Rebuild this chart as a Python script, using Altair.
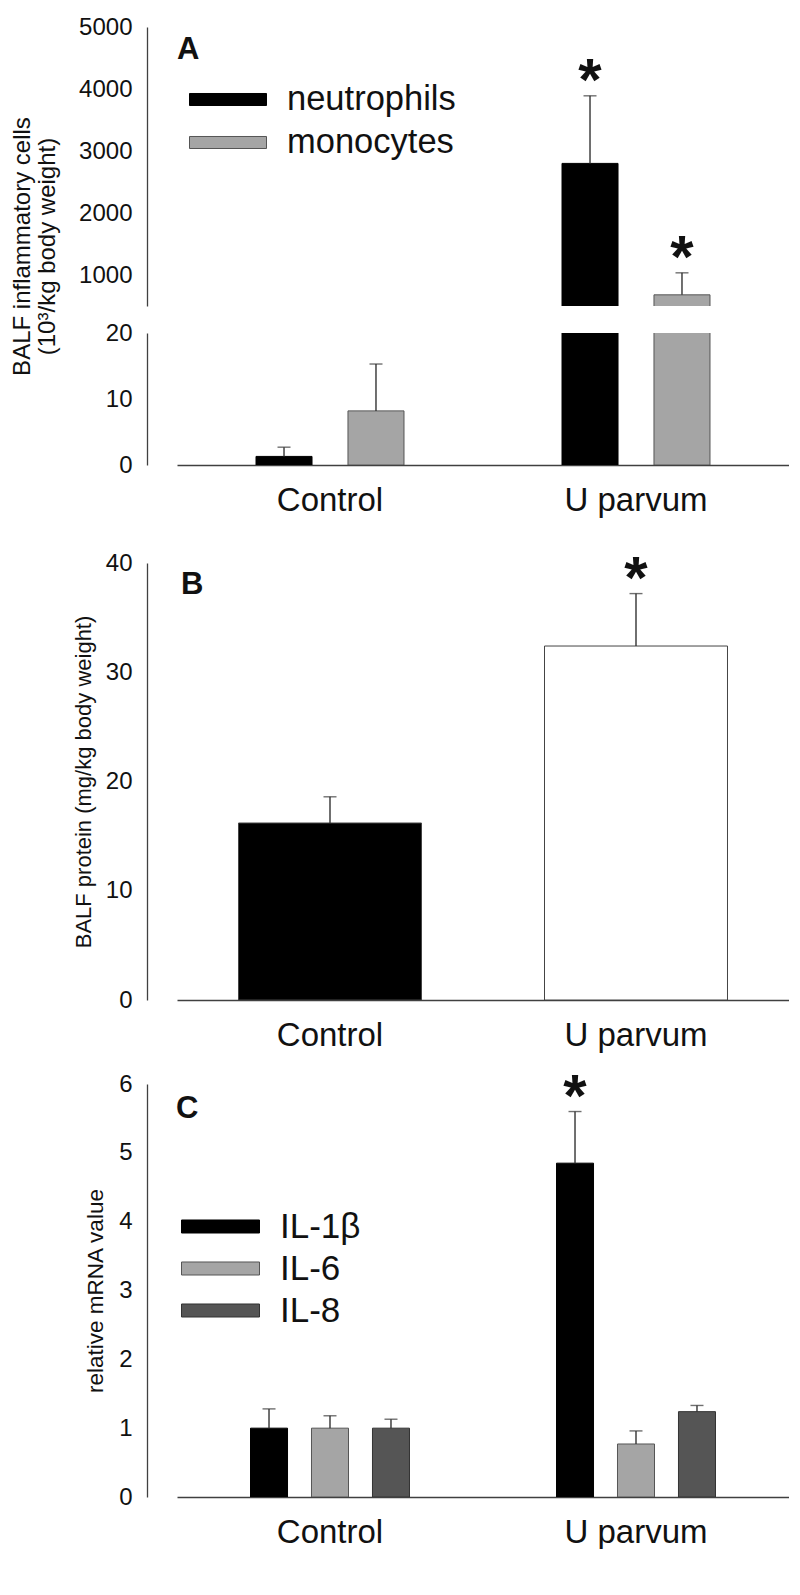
import altair as alt
import pandas as pd

FONT = "Liberation Sans"
INK = "#111111"
AXIS_COLOR = "#404040"

# ---------------- data ----------------
groups = ["Control", "U parvum"]
panel_letters = ["A", "B", "C"]

# Panel A: BALF inflammatory cells (10^3/kg body weight)
cell_types = ["neutrophils", "monocytes"]
neutrophils_mean = [1.3, 2800]
neutrophils_sem = [1.4, 1090]
monocytes_mean = [8.2, 680]
monocytes_sem = [7.1, 355]
cell_sig = [False, True]

# Panel B: BALF protein (mg/kg body weight)
protein_mean = [16.2, 32.4]
protein_sem = [2.4, 4.8]
protein_sig = [False, True]
protein_fill = ["#000000", "#ffffff"]

# Panel C: relative mRNA value
cytokines = ["IL-1β", "IL-6", "IL-8"]
il1b_mean = [1.0, 4.85]
il1b_sem = [0.28, 0.75]
il6_mean = [1.0, 0.77]
il6_sem = [0.18, 0.19]
il8_mean = [1.0, 1.24]
il8_sem = [0.13, 0.09]
il1b_sig = [False, True]
il6_sig = [False, False]
il8_sig = [False, False]


def rows(series, means, sems, sigs):
    out = []
    for g, m, s, sig in zip(groups, means, sems, sigs):
        out.append({"group": g, "series": series, "mean": m, "top": m + s,
                    "base": 0, "star": "*" if sig else ""})
    return out


dfA = pd.DataFrame(rows("neutrophils", neutrophils_mean, neutrophils_sem, cell_sig)
                   + rows("monocytes", monocytes_mean, monocytes_sem, cell_sig))
dfB = pd.DataFrame(rows("protein", protein_mean, protein_sem, protein_sig))
dfB["fill"] = protein_fill
dfC = pd.DataFrame(rows("IL-1β", il1b_mean, il1b_sem, il1b_sig)
                   + rows("IL-6", il6_mean, il6_sem, il6_sig)
                   + rows("IL-8", il8_mean, il8_sem, il8_sig))

W = 612


def y_axis(values, title=None, title_padding=15, title_size=22, **kw):
    args = dict(values=values, ticks=False, grid=False, offset=30, labelPadding=15,
                labelFontSize=24, labelFont=FONT, labelColor=INK, format="d",
                domainColor=AXIS_COLOR, domainWidth=1.3,
                titleFont=FONT, titleFontSize=title_size, titleFontWeight="normal",
                titleColor=INK, titlePadding=title_padding)
    args.update(kw)
    if title is None:
        args["title"] = None
    else:
        args["title"] = title
    return alt.Axis(**args)


x_axis = alt.Axis(labelAngle=0, ticks=False, grid=False, domainColor=AXIS_COLOR,
                  domainWidth=1.3, labelFontSize=33, labelFont=FONT, labelColor=INK,
                  labelPadding=19, title=None)


def letter_layer(letter, dx, dy):
    return alt.Chart(pd.DataFrame({"panel": [letter]})).mark_text(
        align="left", baseline="alphabetic", fontSize=31, fontWeight="bold",
        font=FONT, color=INK
    ).encode(text="panel:N", x=alt.value(dx), y=alt.value(dy))


def bar_layers(df, x, xo, yscale, yaxis, fill, stroke, star=True, letter=None):
    base = alt.Chart(df)
    enc = dict(x=x)
    if xo is not None:
        enc["xOffset"] = xo
    bars = base.mark_bar(clip=True, strokeWidth=1).encode(
        y=alt.Y("mean:Q", scale=yscale, axis=yaxis),
        y2="base:Q", fill=fill, stroke=stroke, **enc)
    err = base.mark_rule(clip=True, color="#333333", strokeWidth=1.4).encode(
        y=alt.Y("mean:Q", scale=yscale), y2="top:Q", **enc)
    cap = base.mark_tick(clip=True, color="#333333", thickness=1.4, size=13).encode(
        y=alt.Y("top:Q", scale=yscale), **enc)
    layers = [bars, err, cap]
    if star:
        stars = base.mark_text(fontSize=60, fontWeight="bold", font=FONT, color=INK,
                               baseline="alphabetic", dy=4).encode(
            y=alt.Y("top:Q", scale=yscale), text="star:N", **enc)
        layers.append(stars)
    if letter is not None:
        layers.append(letter)
    return alt.layer(*layers)


# ---------------- Panel A ----------------
xA = alt.X("group:N", sort=groups,
           scale=alt.Scale(domain=groups, paddingInner=0, paddingOuter=0), axis=None)
xA_axis = alt.X("group:N", sort=groups,
                scale=alt.Scale(domain=groups, paddingInner=0, paddingOuter=0), axis=x_axis)
xoA = alt.XOffset("series:N", sort=cell_types,
                  scale=alt.Scale(domain=cell_types, paddingInner=0.391, paddingOuter=0.859))

legendA = alt.Legend(orient="none", legendX=12, legendY=56, direction="vertical",
                     title=None, clipHeight=33, rowPadding=8, labelOffset=20,
                     labelFontSize=34.5, labelFont=FONT, labelColor=INK, labelLimit=0,
                     symbolType="M-1,-0.156L1,-0.156L1,0.156L-1,0.156Z",
                     symbolSize=5929, symbolStrokeColor="#555555",
                     symbolStrokeWidth=1, symbolOpacity=1, padding=0)

fillA = alt.Fill("series:N", sort=cell_types,
                 scale=alt.Scale(domain=cell_types, range=["#000000", "#a5a5a5"]),
                 legend=legendA)
fillA_nolegend = alt.Fill("series:N", sort=cell_types,
                          scale=alt.Scale(domain=cell_types, range=["#000000", "#a5a5a5"]),
                          legend=None)
strokeA = alt.Stroke("series:N", sort=cell_types,
                     scale=alt.Scale(domain=cell_types, range=["#000000", "#555555"]),
                     legend=None)

A_up = bar_layers(
    dfA, xA, xoA,
    alt.Scale(domain=[500, 5000], nice=False, zero=False),
    y_axis([1000, 2000, 3000, 4000, 5000],
           title=["BALF inflammatory cells", "(10³/kg body weight)"],
           title_padding=19.5, title_size=24, titleLineHeight=25, titleY=219),
    fillA, strokeA, star=True, letter=letter_layer(panel_letters[0], 0, 32),
).properties(width=W, height=279)

A_low = bar_layers(
    dfA, xA_axis, xoA,
    alt.Scale(domain=[0, 20], nice=False),
    y_axis([0, 10, 20]),
    fillA_nolegend, strokeA, star=False,
).properties(width=W, height=132)

# ---------------- Panel B ----------------
xB = alt.X("group:N", sort=groups,
           scale=alt.Scale(domain=groups, paddingInner=0.402, paddingOuter=0.201),
           axis=x_axis)
B = bar_layers(
    dfB, xB, None,
    alt.Scale(domain=[0, 40], nice=False),
    y_axis([0, 10, 20, 30, 40], title="BALF protein (mg/kg body weight)",
           title_padding=9.8),
    alt.Fill("fill:N", scale=None), alt.value("#444444"), star=True,
    letter=letter_layer(panel_letters[1], 4, 31),
).properties(width=W, height=437)

# ---------------- Panel C ----------------
xC = alt.X("group:N", sort=groups,
           scale=alt.Scale(domain=groups, paddingInner=0.402, paddingOuter=0.201),
           axis=x_axis)
xoC = alt.XOffset("series:N", sort=cytokines,
                  scale=alt.Scale(domain=cytokines, paddingInner=0.393, paddingOuter=0.1967))
legendC = alt.Legend(orient="none", legendX=4, legendY=126, direction="vertical",
                     title=None, clipHeight=33, rowPadding=6, labelOffset=20,
                     labelFontSize=35, labelFont=FONT, labelColor=INK, labelLimit=0,
                     symbolType="M-1,-0.167L1,-0.167L1,0.167L-1,0.167Z",
                     symbolSize=6084, symbolStrokeColor="#444444",
                     symbolStrokeWidth=1, symbolOpacity=1, padding=0)
fillC = alt.Fill("series:N", sort=cytokines,
                 scale=alt.Scale(domain=cytokines, range=["#000000", "#a5a5a5", "#555555"]),
                 legend=legendC)
strokeC = alt.Stroke("series:N", sort=cytokines,
                     scale=alt.Scale(domain=cytokines, range=["#000000", "#555555", "#333333"]),
                     legend=None)
C = bar_layers(
    dfC, xC, xoC,
    alt.Scale(domain=[0, 6], nice=False),
    y_axis([0, 1, 2, 3, 4, 5, 6], title="relative mRNA value", title_padding=11.6,
           title_size=22.5),
    fillC, strokeC, star=True, letter=letter_layer(panel_letters[2], -1, 34),
).properties(width=W, height=413)


def spacer(h):
    return alt.Chart(pd.DataFrame({"v": [0]})).mark_point(opacity=0).encode(
        x=alt.X("v:Q", axis=None), y=alt.Y("v:Q", axis=None)
    ).properties(width=W, height=h)


chart = alt.vconcat(
    A_up, A_low, spacer(44), B, spacer(30), C, spacing=27, bounds="flush"
).resolve_scale(
    x="independent", y="independent", fill="independent",
    stroke="independent", xOffset="independent"
).resolve_legend(fill="independent", stroke="independent").properties(
    padding={"top": 7, "left": 2, "right": 0, "bottom": 0}
).configure(background="white").configure_view(stroke=None)

chart.save("out.html", embed_options={"renderer": "svg", "actions": False})
